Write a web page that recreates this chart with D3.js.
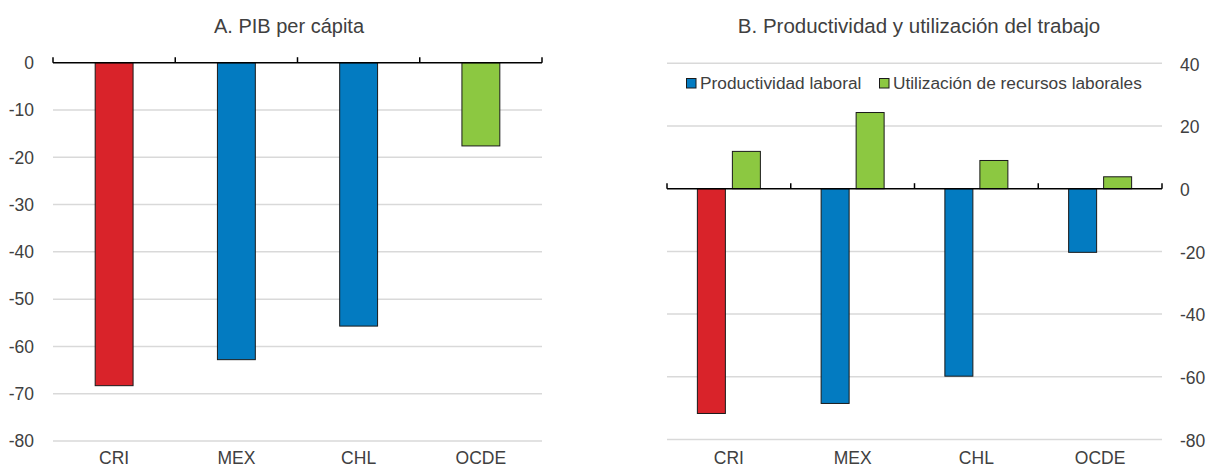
<!DOCTYPE html>
<html>
<head>
<meta charset="utf-8">
<script src="https://cdn.jsdelivr.net/npm/d3@7"></script>
<style>
  body { margin: 0; background: #fff; }
  svg { display: block; }
  text { font-family: "Liberation Sans", Arial, sans-serif; fill: #404040; }
</style>
</head>
<body>
<svg id="chart" width="1213" height="469"></svg>
<script>
// ---- Data ----
const categories = ["CRI", "MEX", "CHL", "OCDE"];
const pibPerCapita = [-68.3, -62.8, -55.7, -17.6];
const productividad = [-71.7, -68.5, -59.8, -20.3];
const utilizacion = [11.9, 24.3, 9.0, 3.8];
const ticksA = [0, -10, -20, -30, -40, -50, -60, -70, -80];
const ticksB = [40, 20, 0, -20, -40, -60, -80];
const titleA = "A. PIB per cápita";
const titleB = "B. Productividad y utilización del trabajo";
const seriesNames = ["Productividad laboral", "Utilización de recursos laborales"];

// ---- Styles ----
const RED = "#D9232A", BLUE = "#037BC1", GREEN = "#8CC841";
const GRID = "#d9d9d9";
const colorA = ["red", "blue", "blue", "green"];
const colorMap = { red: RED, blue: BLUE, green: GREEN };

const svg = d3.select("#chart");

// ================= Panel A =================
const xA = d3.scaleBand().domain(categories).range([53, 542]);
const yA = d3.scaleLinear().domain([-80, 0]).range([441, 62.7]);

const gA = svg.append("g");
// gridlines
gA.append("g").selectAll("line").data(ticksA.filter(t => t !== 0)).join("line")
  .attr("x1", 53).attr("x2", 542)
  .attr("y1", d => yA(d)).attr("y2", d => yA(d))
  .attr("stroke", GRID).attr("stroke-width", 1.5);
// y labels
gA.append("g").selectAll("text").data(ticksA).join("text")
  .attr("x", 34).attr("y", d => yA(d)).attr("dy", "0.36em")
  .attr("text-anchor", "end").style("font-size", "17.5px")
  .text(d => d);
// bars
const bwA = xA.bandwidth() * 0.31;
gA.append("g").selectAll("rect").data(categories).join("rect")
  .attr("x", d => xA(d) + xA.bandwidth() / 2 - bwA / 2)
  .attr("width", bwA)
  .attr("y", (d, i) => yA(Math.max(0, pibPerCapita[i])))
  .attr("height", (d, i) => Math.abs(yA(pibPerCapita[i]) - yA(0)))
  .attr("fill", (d, i) => colorMap[colorA[i]])
  .attr("stroke", "#1a1a1a").attr("stroke-width", 1);
// zero axis with upward ticks
const axA = gA.append("g").attr("transform", `translate(0,${yA(0)})`)
  .call(d3.axisTop(xA).tickSize(0).tickFormat(""));
axA.select(".domain").remove();
gA.append("line").attr("x1", 53).attr("x2", 542).attr("y1", yA(0)).attr("y2", yA(0))
  .attr("stroke", "#000").attr("stroke-width", 1.5);
const edgesA = categories.map(c => xA(c)).concat([xA(categories[3]) + xA.bandwidth()]);
gA.append("g").selectAll("line").data(edgesA).join("line")
  .attr("x1", d => d).attr("x2", d => d)
  .attr("y1", yA(0)).attr("y2", yA(0) - 5.5)
  .attr("stroke", "#000").attr("stroke-width", 1.5);
// category labels
gA.append("g").selectAll("text").data(categories).join("text")
  .attr("x", d => xA(d) + xA.bandwidth() / 2).attr("y", 464)
  .attr("text-anchor", "middle").style("font-size", "17.5px")
  .text(d => d);
// title
gA.append("text").attr("x", 289).attr("y", 33).attr("text-anchor", "middle")
  .style("font-size", "20px").text(titleA);

// ================= Panel B =================
const xB = d3.scaleBand().domain(categories).range([667, 1162]);
const yB = d3.scaleLinear().domain([-80, 40]).range([439.5, 63.3]);
const xSub = d3.scaleBand().domain([0, 1]).range([-31.5, 31.5]).paddingInner(0.2);

const gB = svg.append("g");
gB.append("g").selectAll("line").data(ticksB.filter(t => t !== 0)).join("line")
  .attr("x1", 667).attr("x2", 1162)
  .attr("y1", d => yB(d)).attr("y2", d => yB(d))
  .attr("stroke", GRID).attr("stroke-width", 1.5);
gB.append("g").selectAll("text").data(ticksB).join("text")
  .attr("x", 1180).attr("y", d => yB(d)).attr("dy", "0.42em")
  .attr("text-anchor", "start").style("font-size", "17.5px")
  .text(d => d);

const barsB = [];
categories.forEach((c, i) => {
  barsB.push({ cat: c, s: 0, v: productividad[i], color: i === 0 ? RED : BLUE });
  barsB.push({ cat: c, s: 1, v: utilizacion[i], color: GREEN });
});
gB.append("g").selectAll("rect").data(barsB).join("rect")
  .attr("x", d => xB(d.cat) + xB.bandwidth() / 2 + xSub(d.s))
  .attr("width", xSub.bandwidth())
  .attr("y", d => yB(Math.max(0, d.v)))
  .attr("height", d => Math.abs(yB(d.v) - yB(0)))
  .attr("fill", d => d.color)
  .attr("stroke", "#1a1a1a").attr("stroke-width", 1);

gB.append("line").attr("x1", 667).attr("x2", 1162).attr("y1", yB(0)).attr("y2", yB(0))
  .attr("stroke", "#000").attr("stroke-width", 1.5);
const edgesB = categories.map(c => xB(c)).concat([xB(categories[3]) + xB.bandwidth()]);
gB.append("g").selectAll("line").data(edgesB).join("line")
  .attr("x1", d => d).attr("x2", d => d)
  .attr("y1", yB(0)).attr("y2", yB(0) - 5.5)
  .attr("stroke", "#000").attr("stroke-width", 1.5);
gB.append("g").selectAll("text").data(categories).join("text")
  .attr("x", d => xB(d) + xB.bandwidth() / 2).attr("y", 464)
  .attr("text-anchor", "middle").style("font-size", "17.5px")
  .text(d => d);
gB.append("text").attr("x", 919).attr("y", 33).attr("text-anchor", "middle")
  .style("font-size", "20.5px").text(titleB);

// legend
const legendItems = [
  { name: seriesNames[0], color: BLUE, x: 686 },
  { name: seriesNames[1], color: GREEN, x: 879 }
];
const lg = gB.append("g");
lg.selectAll("rect").data(legendItems).join("rect")
  .attr("x", d => d.x + 0.5).attr("y", 78.5).attr("width", 9.5).attr("height", 9.5)
  .attr("fill", d => d.color).attr("stroke", "#1a1a1a").attr("stroke-width", 1);
lg.selectAll("text").data(legendItems).join("text")
  .attr("x", d => d.x + 14).attr("y", 89)
  .style("font-size", "17.3px").text(d => d.name);
</script>
</body>
</html>
